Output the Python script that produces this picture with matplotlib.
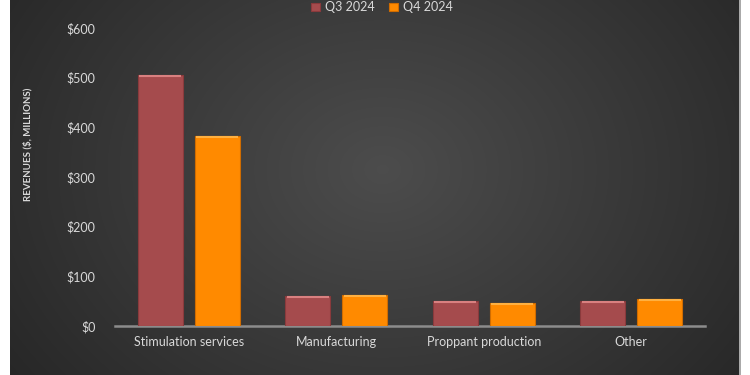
import numpy as np
import matplotlib.pyplot as plt

categories = ["Stimulation services", "Manufacturing", "Proppant production", "Other"]
q3_2024 = [505, 61, 51, 50]
q4_2024 = [383, 62, 46, 54]
series_names = ["Q3 2024", "Q4 2024"]
yticks = [0, 100, 200, 300, 400, 500, 600]

W, H = 750, 375
fig = plt.figure(figsize=(7.5, 3.75), dpi=100)
fig.patch.set_facecolor("white")

# background panel with radial gradient
bg = fig.add_axes([10 / W, 0, 729 / W, 1])
ny, nx = 200, 400
yy, xx = np.mgrid[0:ny, 0:nx]
cx, cy = nx * 0.51, ny * 0.45
r = np.sqrt(((xx - cx) / (nx * 0.62)) ** 2 + ((yy - cy) / (ny * 0.95)) ** 2)
r = np.clip(r, 0, 1)
c0, c1 = 0.30, 0.155
val = c0 + (c1 - c0) * r
img = np.dstack([val, val, val])
bg.imshow(img, aspect="auto", extent=[0, 1, 0, 1], interpolation="bilinear")
bg.set_axis_off()
fig.add_artist(plt.Line2D([739.5 / W, 739.5 / W], [0, 1], color="#9a9a9a", lw=1.2, transform=fig.transFigure))

ax = fig.add_axes([115 / W, (H - 326) / H, 590 / W, 298 / H])
ax.set_facecolor("none")
x = np.arange(len(categories))
bw = 0.305
off = 0.193
b1 = ax.bar(x - off, q3_2024, bw, color="#A54B4D", edgecolor="#8a3a3c", linewidth=0.8, label=series_names[0], zorder=3)
b2 = ax.bar(x + off, q4_2024, bw, color="#FF8A00", edgecolor="#d06c00", linewidth=0.8, label=series_names[1], zorder=3)
# top highlight bevels
for bars, hc in ((b1, "#d98080"), (b2, "#ffb040")):
    for b in bars:
        ax.plot([b.get_x() + 0.01, b.get_x() + b.get_width() - 0.01], [b.get_height() - 2.5, b.get_height() - 2.5],
                color=hc, lw=1.5, zorder=4, solid_capstyle="butt")

ax.set_xlim(-0.5, len(categories) - 0.5)
ax.set_ylim(0, 600)
ax.set_yticks(yticks)
ax.set_yticklabels([f"${v}" for v in yticks])
ax.set_xticks(x)
ax.set_xticklabels(categories)
for s in ["top", "right", "left"]:
    ax.spines[s].set_visible(False)
ax.spines["bottom"].set_color("#8c8c8c")
ax.spines["bottom"].set_linewidth(1.8)
ax.tick_params(axis="both", length=0, colors="#d9d9d9", labelsize=9)
ax.tick_params(axis="y", pad=14)
ax.tick_params(axis="x", pad=7)
for t in ax.get_xticklabels() + ax.get_yticklabels():
    t.set_fontfamily("Lato")

fig.text(28 / W, 1 - 144 / H, "REVENUES ($, MILLIONS)", rotation=90, ha="center", va="center",
         color="#d9d9d9", fontsize=7, fontweight="bold", family="Lato")

leg = fig.legend(handles=[b1, b2], labels=series_names, loc="upper center", bbox_to_anchor=(382 / W, 1.0),
                 ncol=2, frameon=False, handlelength=0.7, handleheight=0.7, columnspacing=1.2, handletextpad=0.4,
                 borderaxespad=0.0, borderpad=0.1, prop={"family": "Lato", "size": 9})
for t in leg.get_texts():
    t.set_color("#d9d9d9")

fig.savefig("out.png", dpi=100, facecolor=fig.get_facecolor())
